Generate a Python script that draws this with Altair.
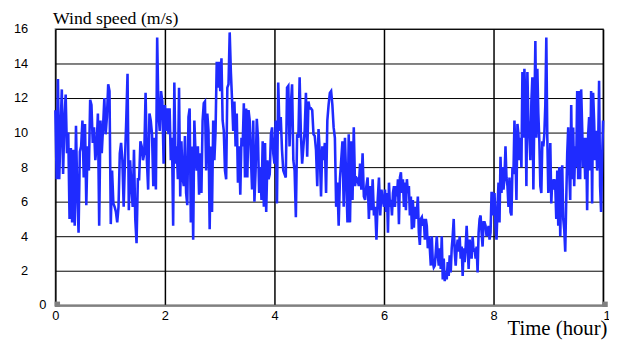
import altair as alt
import pandas as pd
import numpy as np

# Wind speed (m/s), one list per 2-hour block
seg_0_2 = [11.3, 7.3, 13.1, 7.3, 10.1, 12.5, 7.6, 10.7, 12.2, 8.8, 10.0, 5.0, 9.1, 4.8, 9.0, 4.6,
           10.4, 6.5, 4.2, 8.9, 9.2, 10.7, 7.4, 10.5, 5.8, 9.2, 7.8, 11.9, 11.6, 9.4, 10.3, 8.4,
           9.2, 11.1, 4.6, 10.7, 8.8, 10.3, 12.0, 9.9, 10.9, 12.8, 12.4, 4.7, 7.8, 5.9, 5.7, 5.4,
           4.8, 5.7, 8.8, 9.4, 8.4, 5.7, 8.4, 10.7, 13.4, 5.5, 8.4, 6.9, 5.7, 9.0, 5.0, 3.6,
           7.3, 7.3, 9.5, 9.2, 8.4, 8.8, 12.3, 8.4, 6.7, 11.1, 10.7, 9.9, 6.9, 9.7, 6.7, 15.5,
           11.1, 10.1, 12.4, 11.8, 8.2]
seg_2_4 = [11.6, 10.1, 11.4, 9.9, 11.4, 8.4, 9.7, 4.6, 12.9, 8.2, 9.2, 7.3, 12.6, 6.3, 9.5, 7.4,
           6.9, 9.8, 6.5, 5.8, 10.9, 11.4, 4.8, 9.2, 3.8, 10.7, 8.8, 7.8, 9.2, 6.4, 8.8, 6.5,
           10.7, 11.7, 11.8, 7.8, 11.1, 10.1, 4.4, 9.2, 5.4, 10.7, 8.4, 10.1, 14.1, 12.6, 14.1, 12.4,
           14.3, 10.7, 10.1, 7.8, 7.3, 12.6, 12.8, 15.8, 13.5, 11.9, 10.1, 11.8, 9.2, 11.1, 7.1, 9.2,
           6.4, 9.7, 9.2, 11.7, 7.4, 11.4, 7.4, 11.3, 10.7, 8.6, 6.7, 10.7, 6.0, 7.8, 10.8, 9.7,
           6.5, 8.0, 6.1, 9.5, 5.7, 9.4, 5.4, 8.4, 7.3, 7.6, 9.9, 10.3, 8.8]
seg_4_6 = [8.2, 10.7, 5.9, 12.9, 10.1, 10.9, 9.0, 7.8, 7.6, 7.4, 12.6, 12.7, 9.2, 11.6, 12.8, 8.4,
           7.8, 5.1, 9.9, 9.7, 13.2, 9.9, 8.2, 9.2, 10.1, 12.3, 8.6, 11.8, 11.4, 11.4, 11.3, 9.9,
           9.8, 9.0, 6.9, 10.2, 8.8, 6.3, 9.2, 8.4, 9.4, 6.5, 10.7, 11.6, 12.3, 12.4, 11.6, 10.3,
           9.7, 5.7, 7.1, 4.6, 7.3, 8.4, 9.5, 5.7, 9.7, 7.3, 4.8, 9.9, 4.8, 9.5, 6.1, 10.3,
           6.9, 7.4, 7.3, 6.9, 8.2, 6.7, 8.8, 6.3, 6.1, 6.9, 7.4, 5.0, 6.9, 5.5, 7.3, 5.2,
           5.7, 3.8, 6.1, 7.4, 5.2, 6.7, 6.1]
seg_6_8 = [5.7, 6.7, 5.4, 6.5, 4.2, 7.1, 5.7, 6.1, 5.2, 6.5, 6.9, 5.7, 6.9, 6.3, 7.3, 4.7,
           7.4, 7.7, 6.5, 7.3, 5.7, 7.1, 5.5, 7.3, 6.5, 6.9, 5.2, 6.3, 4.4, 6.1, 4.5, 5.7,
           5.0, 5.4, 6.3, 4.2, 3.5, 5.0, 5.1, 4.6, 5.0, 3.8, 5.0, 4.6, 3.3, 4.0, 3.3, 2.3,
           4.0, 2.5, 2.2, 2.3, 3.1, 4.0, 2.9, 2.3, 3.3, 2.1, 4.0, 1.5, 2.7, 1.4, 1.9, 1.5,
           2.5, 1.7, 2.9, 1.9, 3.3, 4.0, 5.0, 3.1, 2.3, 3.3, 3.8, 3.1, 4.0, 2.7, 3.4, 1.7,
           3.3, 2.5, 3.4, 4.6, 3.3, 2.1, 3.8, 3.1, 2.7, 4.0, 3.1, 3.3, 2.7, 3.4, 1.9, 4.2,
           5.0, 5.2, 4.2, 3.4, 4.8, 4.8, 4.6, 4.0, 4.2, 4.6, 3.8, 4.2, 6.5, 6.5]
seg_8_10 = [5.2, 6.5, 4.6, 3.8, 5.7, 7.1, 4.8, 8.6, 6.5, 8.0, 6.7, 7.4, 9.2, 7.4, 6.9, 5.7,
            7.4, 5.4, 5.2, 8.0, 7.6, 10.7, 8.8, 6.1, 10.5, 9.9, 8.4, 9.7, 8.0, 13.5, 9.7, 13.7,
            11.6, 6.9, 13.5, 10.7, 9.7, 8.4, 11.8, 13.2, 6.7, 11.1, 15.3, 9.7, 13.7, 11.1, 9.5, 6.9,
            6.5, 9.5, 9.2, 9.9, 11.6, 15.5, 9.7, 6.5, 7.3, 9.4, 5.9, 7.3, 6.7, 7.3, 6.9, 5.0,
            7.8, 4.6, 8.0, 4.0, 7.3, 8.1, 5.0, 4.4, 3.1, 6.1, 8.8, 10.3, 7.8, 6.1, 11.6, 7.3,
            10.3, 6.9, 9.2, 8.0, 12.4, 7.3, 12.4, 7.3, 12.5, 10.3, 8.0, 9.7, 7.3, 9.7, 5.5, 9.9,
            10.9, 7.8, 12.4, 5.9, 12.3, 10.7, 8.4, 10.1, 7.8, 9.0, 13.0, 6.9, 5.4, 8.4, 10.7]

block_starts = [0, 2, 4, 6, 8]
blocks = [seg_0_2, seg_2_4, seg_4_6, seg_6_8, seg_8_10]

x_ticks = [0, 2, 4, 6, 8, 10]
y_ticks = [0, 2, 4, 6, 8, 10, 12, 14, 16]

rows = []
for k, (start, seg) in enumerate(zip(block_starts, blocks)):
    last = k == len(blocks) - 1
    ts = np.linspace(start, start + 2, len(seg), endpoint=last)
    rows += [{"t": float(t), "v": v} for t, v in zip(ts, seg)]
df = pd.DataFrame(rows)

corner_df = pd.DataFrame({"t": [0, 10], "v": [0, 0]})
zero_df = pd.DataFrame({"t": [0], "v": [0], "lab": ["0"]})

xscale = alt.Scale(domain=[0, 10], nice=False, zero=False)
yscale = alt.Scale(domain=[0, 16], nice=False)

x_axis = alt.Axis(
    values=x_ticks, format="d", grid=True, gridColor="#000000", gridWidth=1.5,
    domain=True, domainColor="#808080", domainWidth=2, ticks=False,
    labelPadding=4, labelFont="Liberation Sans", labelFontSize=13, labelColor="#000000",
    labelAlign={"condition": {"test": "datum.value == 10", "value": "left"}, "value": "center"},
    labelFlush=False, labelOverlap=False,
    title="Time (hour)", titleFont="Liberation Serif", titleFontSize=21,
    titleFontWeight="normal", titleColor="#000000", titleAlign="right",
    titleAnchor="end", titleBaseline="alphabetic", titleX=559, titleY=30)

y_axis = alt.Axis(
    values=y_ticks, tickCount=9, grid=True, gridColor="#000000", gridWidth=1,
    domain=False, ticks=False, labelPadding=28, labelFont="Liberation Sans",
    labelFontSize=13, labelColor="#000000", labelFlush=False, labelOverlap=False,
    labelExpr="datum.value == 0 ? '' : datum.label",
    title="Wind speed (m/s)", titleFont="Liberation Serif", titleFontSize=18,
    titleFontWeight="normal", titleColor="#000000", titleAngle=0, titleAlign="left",
    titleBaseline="alphabetic", titleX=-3, titleY=-6)

X = alt.X("t:Q", scale=xscale, axis=x_axis)
Y = alt.Y("v:Q", scale=yscale, axis=y_axis)

line = alt.Chart(df).mark_line(color="#1f2bff", strokeWidth=2.6).encode(x=X, y=Y)

corners = alt.Chart(corner_df).mark_square(color="#808080", size=30, opacity=1,
                                            xOffset=2, yOffset=-1).encode(x=X, y=Y)

zero_lab = alt.Chart(zero_df).mark_text(align="right", baseline="middle", dx=-9,
                                        font="Liberation Sans", fontSize=13,
                                        color="#000000").encode(x=X, y=Y, text="lab:N")

chart = alt.layer(line, corners, zero_lab).properties(
    width=555, height=280,
    autosize=alt.AutoSizeParams(type="none"),
    padding={"left": 48, "top": 19, "right": 6, "bottom": 37},
).configure_view(stroke="#808080", strokeWidth=1.5)

chart.save("out.html", embed_options={"renderer": "svg", "actions": False})
